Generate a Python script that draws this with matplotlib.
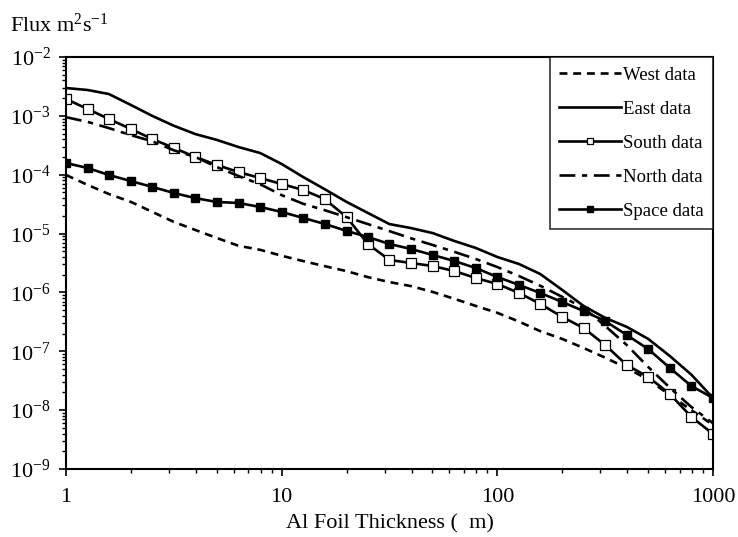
import matplotlib
matplotlib.use("Agg")
import matplotlib.pyplot as plt
from matplotlib.ticker import FixedLocator, FixedFormatter, LogLocator, NullFormatter

plt.rcParams['font.family'] = ['Liberation Serif', 'DejaVu Serif']
plt.rcParams['mathtext.fontset'] = 'custom'
plt.rcParams['mathtext.rm'] = 'Liberation Serif'
plt.rcParams['mathtext.it'] = 'Liberation Serif:italic'

# foil thickness (um), 10 steps per decade
thickness = [1, 1.26, 1.58, 2, 2.51, 3.16, 3.98, 5.01, 6.31, 7.94,
             10, 12.6, 15.8, 20, 25.1, 31.6, 39.8, 50.1, 63.1, 79.4,
             100, 126, 158, 200, 251, 316, 398, 501, 631, 794, 1000]

west = [9.9e-5, 6.7e-5, 4.7e-5, 3.45e-5, 2.34e-5, 1.58e-5, 1.15e-5, 8.4e-6, 6.2e-6, 5.3e-6,
        4.2e-6, 3.4e-6, 2.8e-6, 2.3e-6, 1.82e-6, 1.5e-6, 1.28e-6, 1.02e-6, 7.8e-7, 5.9e-7,
        4.5e-7, 3.2e-7, 2.2e-7, 1.62e-7, 1.14e-7, 7.8e-8, 5.2e-8, 3.3e-8, 1.8e-8, 1.0e-8, 5.6e-9]

east = [2.97e-3, 2.75e-3, 2.35e-3, 1.53e-3, 1.0e-3, 6.8e-4, 4.9e-4, 3.9e-4, 2.95e-4, 2.34e-4,
        1.52e-4, 9.1e-5, 5.7e-5, 3.45e-5, 2.24e-5, 1.45e-5, 1.24e-5, 1.02e-5, 7.5e-6, 5.7e-6,
        4.0e-6, 3.04e-6, 2.06e-6, 1.1e-6, 5.9e-7, 3.7e-7, 2.6e-7, 1.62e-7, 8.3e-8, 4.0e-8, 1.61e-8]

south = [1.93e-3, 1.31e-3, 8.85e-4, 5.98e-4, 4.05e-4, 2.85e-4, 2.0e-4, 1.46e-4, 1.11e-4, 8.8e-5,
         6.95e-5, 5.5e-5, 3.87e-5, 1.91e-5, 6.65e-6, 3.56e-6, 3.16e-6, 2.81e-6, 2.31e-6, 1.76e-6,
         1.39e-6, 9.8e-7, 6.4e-7, 3.83e-7, 2.49e-7, 1.28e-7, 5.85e-8, 3.66e-8, 1.88e-8, 7.66e-9, 3.94e-9]

north = [9.5e-4, 7.9e-4, 6.2e-4, 4.7e-4, 3.7e-4, 2.6e-4, 2.0e-4, 1.35e-4, 9.5e-5, 6.9e-5,
         4.5e-5, 3.2e-5, 2.5e-5, 1.9e-5, 1.45e-5, 1.1e-5, 8.3e-6, 6.4e-6, 4.9e-6, 3.7e-6,
         2.7e-6, 1.9e-6, 1.3e-6, 8.4e-7, 5.5e-7, 2.7e-7, 1.28e-7, 5.4e-8, 2.4e-8, 1.13e-8, 6.0e-9]

space = [1.58e-4, 1.3e-4, 9.9e-5, 7.8e-5, 6.2e-5, 4.9e-5, 4.0e-5, 3.44e-5, 3.31e-5, 2.83e-5,
         2.33e-5, 1.84e-5, 1.46e-5, 1.11e-5, 8.75e-6, 6.65e-6, 5.47e-6, 4.33e-6, 3.42e-6, 2.6e-6,
         1.83e-6, 1.34e-6, 9.8e-7, 6.88e-7, 4.84e-7, 3.27e-7, 1.89e-7, 1.09e-7, 5.2e-8, 2.57e-8, 1.61e-8]

xticks = [1, 10, 100, 1000]
xticklabels = ["1", "10", "100", "1000"]
yticks = [1e-9, 1e-8, 1e-7, 1e-6, 1e-5, 1e-4, 1e-3, 1e-2]

fig = plt.figure(figsize=(7.38, 5.37), dpi=100)
ax = fig.add_axes([66/738, 1-469/537, 647/738, 412/537])

lw = 1.9
ax.plot(thickness, west, color='black', lw=lw, dashes=(3, 2.2), label="West data")
ax.plot(thickness, east, color='black', lw=lw, label="East data")
ax.plot(thickness, south, color='black', lw=lw, marker='s', ms=6.5,
        mfc='white', mec='black', mew=0.9, label="South data")
ax.plot(thickness, north, color='black', lw=lw, dashes=(6, 2.5, 2, 2.5), label="North data")
ax.plot(thickness, space, color='black', lw=lw, marker='s', ms=6,
        mfc='black', mec='black', label="Space data")

ax.set_xscale('log')
ax.set_yscale('log')
ax.set_xlim(1, 1000)
ax.set_ylim(1e-9, 1e-2)

ax.xaxis.set_major_locator(FixedLocator(xticks))
ax.xaxis.set_major_formatter(FixedFormatter(xticklabels))
ax.xaxis.set_minor_locator(LogLocator(base=10, subs=range(2, 10)))
ax.xaxis.set_minor_formatter(NullFormatter())
ax.yaxis.set_major_locator(FixedLocator(yticks))
ax.yaxis.set_minor_locator(LogLocator(base=10, subs=range(2, 10), numticks=20))
ax.yaxis.set_minor_formatter(NullFormatter())

ax.tick_params(which='major', direction='out', length=5, width=1.2, labelsize=16, pad=6)
ax.tick_params(which='minor', direction='out', length=3, width=1.0)
ax.tick_params(axis='x', which='major', pad=9)
for s in ax.spines.values():
    s.set_linewidth(1.5)

ax.set_xlabel("Al Foil Thickness (  m)", fontsize=16, labelpad=5)
fig.text(10/738, 1-32/537, "Flux m$^2$s$^{-1}$", fontsize=16, ha='left', va='baseline')

leg = ax.legend(loc='upper right', bbox_to_anchor=(1, 1), borderaxespad=0,
                frameon=True, fancybox=False, edgecolor='black', fontsize=13.5,
                handlelength=3.3, handletextpad=0.1, labelspacing=0.9,
                borderpad=0.5, markerfirst=True)
leg.get_frame().set_linewidth(1.2)
for h in leg.legend_handles:
    if h.get_marker() == 's':
        h.set_markersize(5)

fig.savefig("out.png", dpi=100)
